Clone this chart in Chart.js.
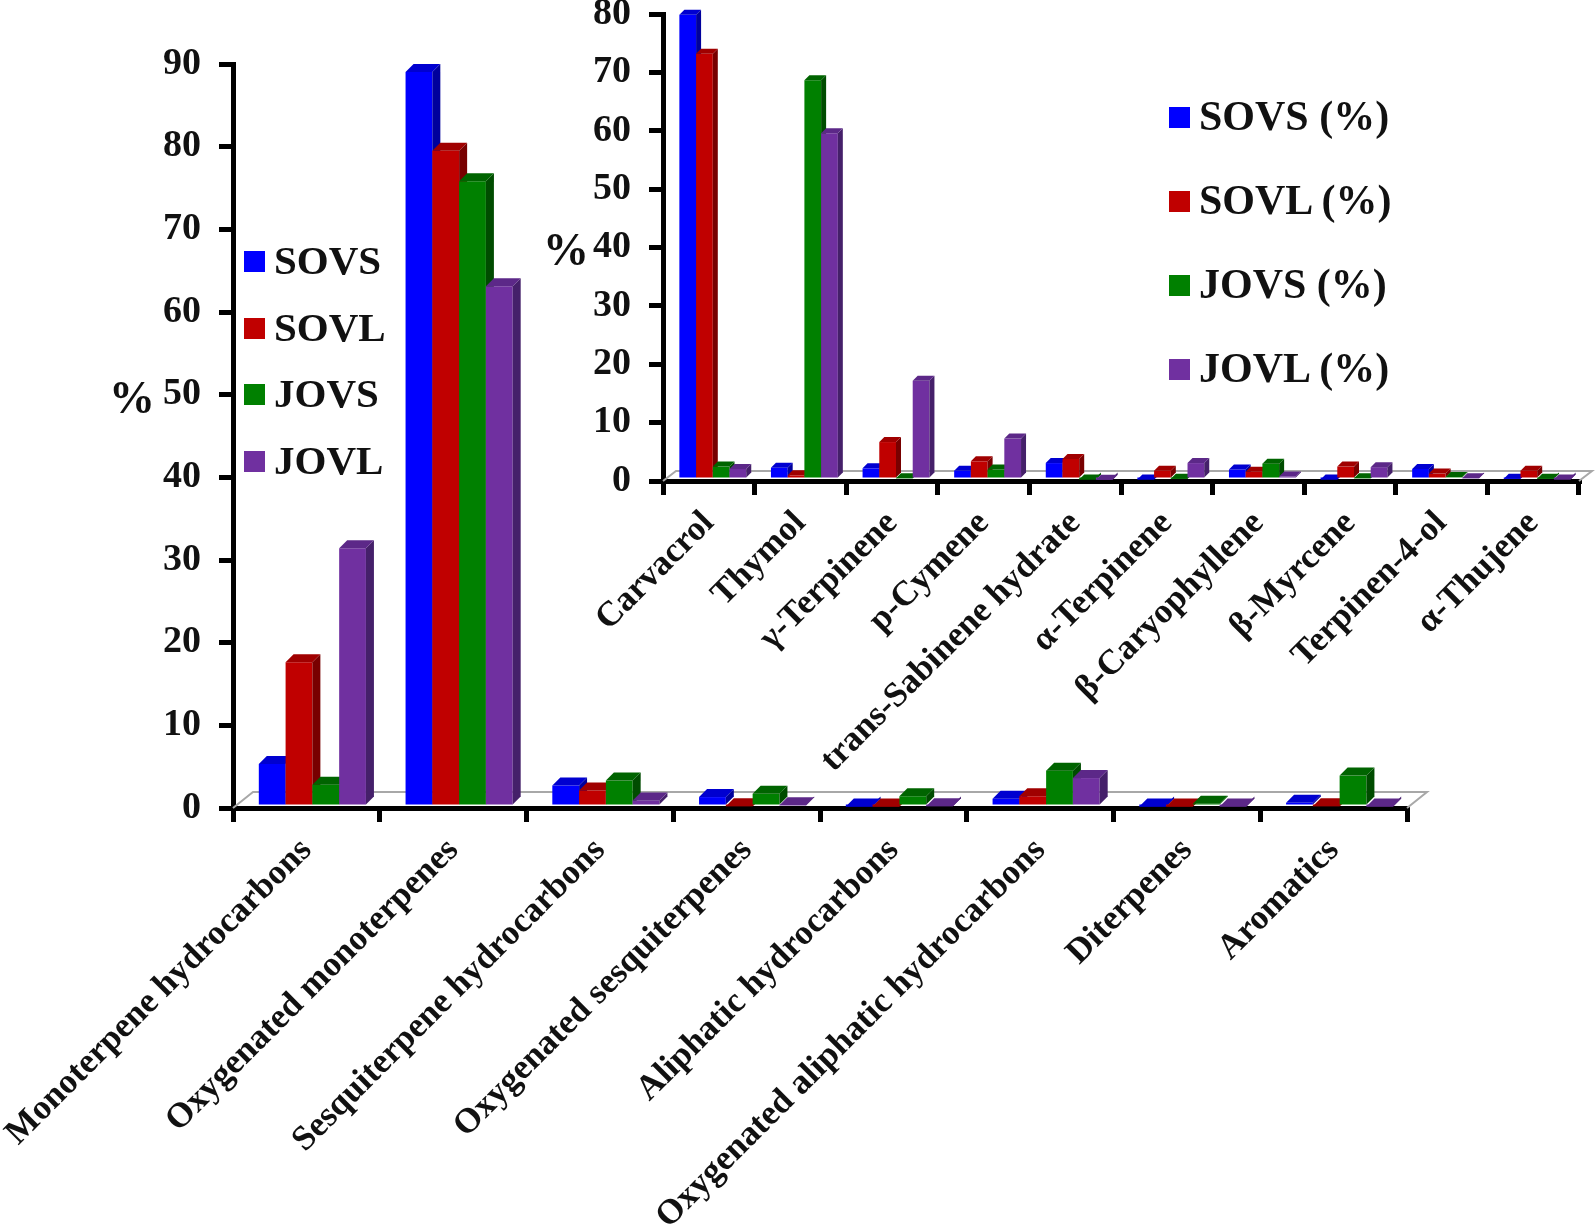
<!DOCTYPE html>
<html>
<head>
<meta charset="utf-8">
<title>Essential oil composition</title>
<script src="https://cdn.jsdelivr.net/npm/chart.js@4"></script>
<style>
    html, body { margin: 0; padding: 0; background: #fff; }
    body { width: 1595px; height: 1228px; position: relative; overflow: hidden;
           font-family: "Liberation Serif", serif; font-weight: bold; color: #111; }
    canvas { position: absolute; left: 0; top: 0; }
    .unit { position: absolute; font-size: 46px; line-height: 46px; }
    .legendRow { position: absolute; white-space: nowrap; }
    .legendRow span { position: absolute; width: 21px; height: 21px; top: 13px; left: 0; }
    .legendRow b { position: absolute; top: 0; line-height: 44px; }
</style>
</head>
<body>
<canvas id="mainChart" width="1595" height="1228"></canvas>
<canvas id="insetChart" width="1595" height="1228"></canvas>
<div class="unit" style="left:109px; top:375px;">%</div>
<div class="unit" style="left:543px; top:227px;">%</div>
<div id="legends"></div>

<script>
// Chemical classes (large chart)
const classLabels = ['Monoterpene hydrocarbons', 'Oxygenated monoterpenes', 'Sesquiterpene hydrocarbons',
    'Oxygenated sesquiterpenes', 'Aliphatic hydrocarbons', 'Oxygenated aliphatic hydrocarbons', 'Diterpenes', 'Aromatics'];
const classSOVS = [5.2, 88.9, 2.6, 1.2, 0.05, 1.0, 0.05, 0.5];
const classSOVL = [17.5, 79.4, 2.0, 0.1, 0.05, 1.3, 0.05, 0.1];
const classJOVS = [2.7, 75.7, 3.2, 1.6, 1.3, 4.4, 0.4, 3.8];
const classJOVL = [31.3, 63, 0.8, 0.2, 0.1, 3.5, 0.05, 0.05];

// Main compounds (inset chart)
const compoundLabels = ['Carvacrol', 'Thymol', 'γ-Terpinene', 'p-Cymene', 'trans-Sabinene hydrate',
    'α-Terpinene', 'β-Caryophyllene', 'β-Myrcene', 'Terpinen-4-ol', 'α-Thujene'];
const compoundSOVS = [79.7, 2.1, 2.0, 1.6, 2.9, 0.1, 1.8, 0.1, 1.9, 0.2];
const compoundSOVL = [73, 0.8, 6.5, 3.2, 3.6, 1.6, 1.4, 2.3, 1.1, 1.6];
const compoundJOVS = [2.3, 68.5, 0.3, 1.8, 0.1, 0.2, 2.8, 0.3, 0.5, 0.2];
const compoundJOVL = [1.9, 59.4, 17, 7.1, 0.05, 2.9, 0.6, 2.2, 0.3, 0.1];

const seriesNames = ['SOVS', 'SOVL', 'JOVS', 'JOVL'];
const frontColors = ['#0000ff', '#c00000', '#008000', '#7030a0'];
const topColors = ['#0000d0', '#a00000', '#006400', '#5c2888'];
const sideColors = ['#00009c', '#780000', '#004c00', '#45206a'];

const SERIF = '"Liberation Serif", serif';

// Fake the 3D look: floor behind the bars, plus side and top faces taken from each bar element
function depthPlugin(o) {
    return {
        id: 'depth',
        beforeDatasetsDraw(chart) {
            const ctx = chart.ctx, a = chart.chartArea;
            ctx.save();
            ctx.strokeStyle = '#a8a8a8';
            ctx.lineWidth = 2;
            ctx.beginPath();
            ctx.moveTo(a.left, a.bottom);
            ctx.lineTo(a.left + o.floorX, a.bottom - o.floorY);
            ctx.lineTo(a.right + o.floorX, a.bottom - o.floorY);
            ctx.lineTo(a.right, a.bottom);
            ctx.stroke();
            ctx.restore();
        },
        // the library draws last series first; we need the opposite so each bar covers the side of the one before
        beforeDatasetDraw() {
            return false;
        },
        afterDatasetsDraw(chart) {
            const ctx = chart.ctx;
            ctx.save();
            ctx.translate(o.shiftX, o.shiftY);
            seriesNames.forEach((name, i) => {
                const meta = chart.getDatasetMeta(i);
                meta.controller.draw();
                meta.data.forEach(bar => {
                    const l = bar.x - bar.width / 2, r = bar.x + bar.width / 2;
                    const t = bar.y, b = bar.base;
                    // side
                    ctx.fillStyle = sideColors[i];
                    ctx.beginPath();
                    ctx.moveTo(r, t);
                    ctx.lineTo(r + o.dx, t - o.dy);
                    ctx.lineTo(r + o.dx, b - o.dy);
                    ctx.lineTo(r, b);
                    ctx.closePath();
                    ctx.fill();
                    // top
                    ctx.fillStyle = topColors[i];
                    ctx.beginPath();
                    ctx.moveTo(l, t);
                    ctx.lineTo(l + o.dx, t - o.dy);
                    ctx.lineTo(r + o.dx, t - o.dy);
                    ctx.lineTo(r, t);
                    ctx.closePath();
                    ctx.fill();
                });
            });
            ctx.restore();
        }
    };
}

function makeChart(id, labels, values, maxY, box, depth) {
    new Chart(document.getElementById(id), {
        type: 'bar',
        data: {
            labels: labels,
            datasets: seriesNames.map((name, i) => ({
                label: name,
                data: values[i],
                backgroundColor: frontColors[i]
            }))
        },
        options: {
            responsive: false,
            animation: false,
            layout: { padding: { top: box.top, right: box.right, left: 0, bottom: 0 } },
            datasets: { bar: { barPercentage: 1, categoryPercentage: 0.73, borderWidth: 0 } },
            plugins: { legend: { display: false }, tooltip: { enabled: false } },
            scales: {
                x: {
                    afterFit: s => { s.height = box.xHeight; s.paddingLeft = 0; s.paddingRight = 0; },
                    border: { color: '#000', width: 5 },
                    grid: { drawOnChartArea: false, color: '#000', lineWidth: 5, tickLength: 14 },
                    ticks: {
                        autoSkip: false, minRotation: 45, maxRotation: 45, padding: 8,
                        color: '#111', font: { family: SERIF, weight: 'bold', size: 35 }
                    }
                },
                y: {
                    min: 0, max: maxY,
                    afterFit: s => { s.width = box.yWidth; s.paddingTop = 0; s.paddingBottom = 0; },
                    border: { color: '#000', width: 5 },
                    grid: { drawOnChartArea: false, color: '#000', lineWidth: 5, tickLength: 14 },
                    ticks: {
                        stepSize: 10, padding: 18,
                        color: '#111', font: { family: SERIF, weight: 'bold', size: 38 }
                    }
                }
            }
        },
        plugins: [depthPlugin(depth)]
    });
}

makeChart('mainChart', classLabels, [classSOVS, classSOVL, classJOVS, classJOVL], 90,
    { top: 64, right: 188, yWidth: 233, xHeight: 420 },
    { dx: 8, dy: 8, shiftX: 6, shiftY: -1, floorX: 20, floorY: 16 });

makeChart('insetChart', compoundLabels, [compoundSOVS, compoundSOVL, compoundJOVS, compoundJOVL], 80,
    { top: 14, right: 16, yWidth: 663, xHeight: 747 },
    { dx: 5, dy: 5, shiftX: 4, shiftY: -1, floorX: 13, floorY: 10 });

// Legends are plain text rows next to a small square
function addLegend(left, tops, textLeft, size, suffix) {
    const host = document.getElementById('legends');
    seriesNames.forEach((name, i) => {
        const row = document.createElement('div');
        row.className = 'legendRow';
        row.style.left = left + 'px';
        row.style.top = tops[i] + 'px';
        row.innerHTML = '<span style="background:' + frontColors[i] + '"></span><b style="left:' + textLeft + 'px;font-size:' + size + 'px">' + name + suffix + '</b>';
        host.appendChild(row);
    });
}
addLegend(244, [238, 305, 371, 438], 30, 41, '');
addLegend(1169, [94, 178, 262, 346], 30, 42, ' (%)');
</script>
</body>
</html>
